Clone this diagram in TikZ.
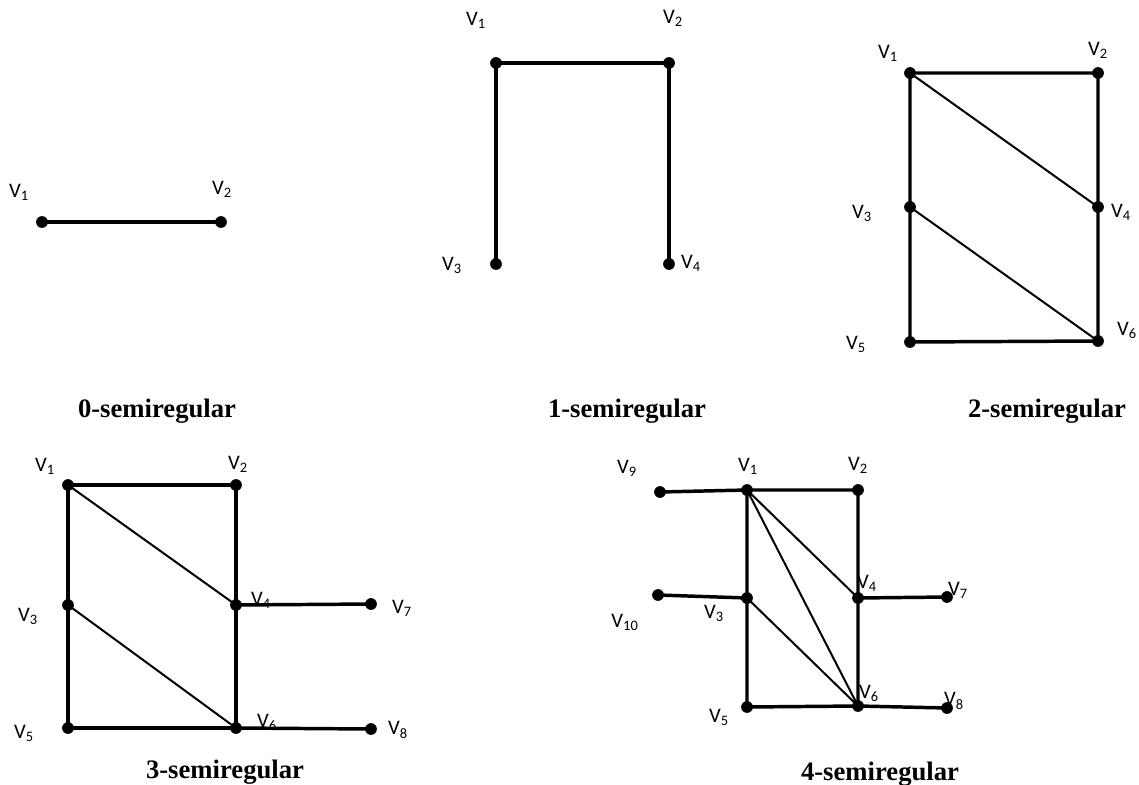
\documentclass[tikz,border=0pt]{standalone}
\usepackage{fontspec}
\setmainfont{Liberation Serif}
\newfontfamily\lblfont{Carlito}
\begin{document}
\begin{tikzpicture}[x=0.75pt,y=-0.75pt,
  dot/.style={circle,fill=black,inner sep=0pt,minimum size=8.8pt},
  edge/.style={line width=2.6pt},
  thin edge/.style={line width=1.5pt},
  lbl/.style={font=\lblfont\fontsize{15.5}{17}\selectfont,inner sep=0pt},
  captxt/.style={font=\bfseries\fontsize{20}{22}\selectfont,inner sep=0pt}]
\useasboundingbox (0,0) rectangle (1139,785);
% ---- 0-semiregular
\node[dot] (a1) at (42,222) {};
\node[dot] (a2) at (221,222) {};
\draw[edge] (a1.center) -- (a2.center);
\node[lbl] (la1) at (19,192) {V\textsubscript{1}};
\node[lbl] (la2) at (222,189) {V\textsubscript{2}};
\node[captxt] (ca) at (157,411) {0-semiregular};
% ---- 1-semiregular
\node[dot] (b1) at (496,63) {};
\node[dot] (b2) at (669,63) {};
\node[dot] (b3) at (496,264) {};
\node[dot] (b4) at (669,264) {};
\draw[edge] (b3.center) -- (b1.center) -- (b2.center) -- (b4.center);
\node[lbl] (lb1) at (476,20) {V\textsubscript{1}};
\node[lbl] (lb2) at (673,18) {V\textsubscript{2}};
\node[lbl] (lb3) at (452,265) {V\textsubscript{3}};
\node[lbl] (lb4) at (691,263) {V\textsubscript{4}};
\node[captxt] (cb) at (627,411) {1-semiregular};
% ---- 2-semiregular
\node[dot] (c1) at (910,73) {};
\node[dot] (c2) at (1098,73) {};
\node[dot] (c3) at (910,207) {};
\node[dot] (c4) at (1098,207) {};
\node[dot] (c5) at (910,342) {};
\node[dot] (c6) at (1098,341) {};
\draw[edge] (c1.center) -- (c2.center) -- (c4.center) -- (c6.center) -- (c5.center) -- (c3.center) -- (c1.center);
\draw[thin edge] (c1.center) -- (c4.center);
\draw[thin edge] (c3.center) -- (c6.center);
\node[lbl] (lc1) at (888,53) {V\textsubscript{1}};
\node[lbl] (lc2) at (1098,50) {V\textsubscript{2}};
\node[lbl] (lc3) at (862,213) {V\textsubscript{3}};
\node[lbl] (lc4) at (1121,212) {V\textsubscript{4}};
\node[lbl] (lc5) at (856,344) {V\textsubscript{5}};
\node[lbl] (lc6) at (1127,330) {V\textsubscript{6}};
\node[captxt] (cc) at (1047,411) {2-semiregular};
% ---- 3-semiregular
\node[dot] (d1) at (68,485) {};
\node[dot] (d2) at (236,485) {};
\node[dot] (d3) at (68,605) {};
\node[dot] (d4) at (236,605) {};
\node[dot] (d5) at (68,728) {};
\node[dot] (d6) at (236,728) {};
\node[dot] (d7) at (371,604) {};
\node[dot] (d8) at (371,729) {};
\draw[edge] (d1.center) -- (d2.center) -- (d4.center) -- (d6.center) -- (d5.center) -- (d3.center) -- (d1.center);
\draw[edge] (d4.center) -- (d7.center);
\draw[edge] (d6.center) -- (d8.center);
\draw[thin edge] (d1.center) -- (d4.center);
\draw[thin edge] (d3.center) -- (d6.center);
\node[lbl] (ld1) at (45,466) {V\textsubscript{1}};
\node[lbl] (ld2) at (238,464) {V\textsubscript{2}};
\node[lbl] (ld3) at (28,616) {V\textsubscript{3}};
\node[lbl] (ld4) at (261,600) {V\textsubscript{4}};
\node[lbl] (ld5) at (24,733) {V\textsubscript{5}};
\node[lbl] (ld6) at (267,722) {V\textsubscript{6}};
\node[lbl] (ld7) at (402,608) {V\textsubscript{7}};
\node[lbl] (ld8) at (398,730) {V\textsubscript{8}};
\node[captxt] (cd) at (225,772) {3-semiregular};
% ---- 4-semiregular
\node[dot] (e1) at (747,490) {};
\node[dot] (e2) at (858,490) {};
\node[dot] (e3) at (747,598) {};
\node[dot] (e4) at (858,598) {};
\node[dot] (e5) at (747,707) {};
\node[dot] (e6) at (858,706) {};
\node[dot] (e7) at (947,597) {};
\node[dot] (e8) at (947,708) {};
\node[dot] (e9) at (660,492) {};
\node[dot] (e10) at (658,595) {};
\draw[edge] (e1.center) -- (e2.center) -- (e4.center) -- (e6.center) -- (e5.center) -- (e3.center) -- (e1.center);
\draw[edge] (e4.center) -- (e7.center);
\draw[edge] (e6.center) -- (e8.center);
\draw[edge] (e9.center) -- (e1.center);
\draw[edge] (e10.center) -- (e3.center);
\draw[thin edge] (e1.center) -- (e4.center);
\draw[thin edge] (e1.center) -- (e6.center);
\draw[thin edge] (e3.center) -- (e6.center);
\node[lbl] (le1) at (748,466) {V\textsubscript{1}};
\node[lbl] (le2) at (858,465) {V\textsubscript{2}};
\node[lbl] (le3) at (714,613) {V\textsubscript{3}};
\node[lbl] (le4) at (867,583) {V\textsubscript{4}};
\node[lbl] (le5) at (719,717) {V\textsubscript{5}};
\node[lbl] (le6) at (869,693) {V\textsubscript{6}};
\node[lbl] (le7) at (958,590) {V\textsubscript{7}};
\node[lbl] (le8) at (954,701) {V\textsubscript{8}};
\node[lbl] (le9) at (627,468) {V\textsubscript{9}};
\node[lbl] (le10) at (625,622) {V\textsubscript{10}};
\node[captxt] (ce) at (880,774) {4-semiregular};
\end{tikzpicture}
\end{document}
